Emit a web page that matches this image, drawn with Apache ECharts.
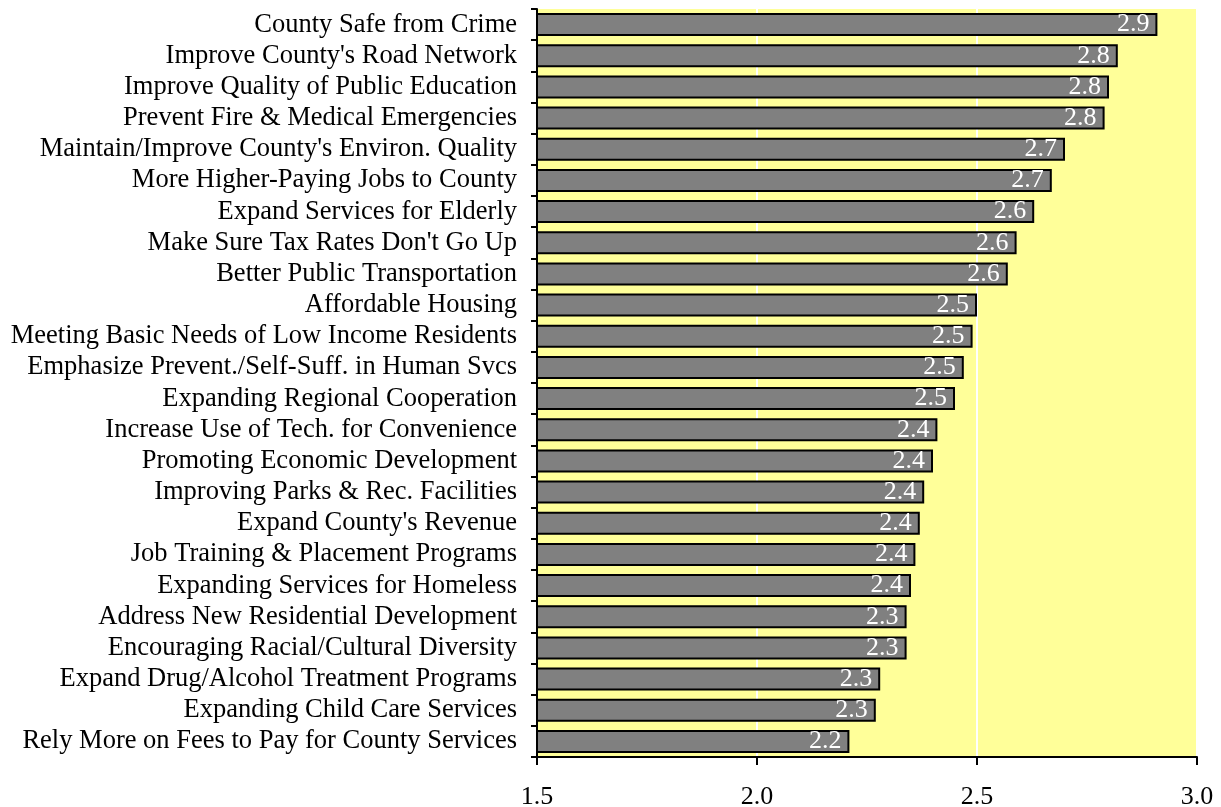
<!DOCTYPE html>
<html><head><meta charset="utf-8">
<script src="https://cdn.jsdelivr.net/npm/echarts@6/dist/echarts.min.js"></script>
<style>html,body{margin:0;padding:0;background:#fff;}#c{width:1221px;height:807px;}</style>
</head><body><div id="c"></div>
<script>
// top to bottom order as shown
const categories = [
  "County Safe from Crime",
  "Improve County's Road Network",
  "Improve Quality of Public Education",
  "Prevent Fire & Medical Emergencies",
  "Maintain/Improve County's Environ. Quality",
  "More Higher-Paying Jobs to County",
  "Expand Services for Elderly",
  "Make Sure Tax Rates Don't Go Up",
  "Better Public Transportation",
  "Affordable Housing",
  "Meeting Basic Needs of Low Income Residents",
  "Emphasize Prevent./Self-Suff. in Human Svcs",
  "Expanding Regional Cooperation",
  "Increase Use of Tech. for Convenience",
  "Promoting Economic Development",
  "Improving Parks & Rec. Facilities",
  "Expand County's Revenue",
  "Job Training & Placement Programs",
  "Expanding Services for Homeless",
  "Address New Residential Development",
  "Encouraging Racial/Cultural Diversity",
  "Expand Drug/Alcohol Treatment Programs",
  "Expanding Child Care Services",
  "Rely More on Fees to Pay for County Services"
];
const values = [2.91, 2.82, 2.80, 2.79, 2.70, 2.67, 2.63, 2.59, 2.57, 2.50, 2.49, 2.47, 2.45, 2.41, 2.40, 2.38, 2.37, 2.36, 2.35, 2.34, 2.34, 2.28, 2.27, 2.21];
const xTicks = [1.5, 2.0, 2.5, 3.0];

const font = "'Liberation Serif', 'Times New Roman', serif";
const chart = echarts.init(document.getElementById('c'));
chart.setOption({
  animation: false,
  grid: { left: 537, right: 24, top: 9, bottom: 50, show: true, backgroundColor: '#FFFF99', borderWidth: 0,
          containLabel: false, outerBoundsMode: 'none' },
  xAxis: {
    type: 'value', min: xTicks[0], max: xTicks[xTicks.length - 1], interval: 0.5,
    axisLine: { show: true, lineStyle: { color: '#000', width: 2 } },
    axisTick: { show: true, length: 8, lineStyle: { color: '#000', width: 2 } },
    axisLabel: { color: '#000', fontFamily: font, fontSize: 26, margin: 27, formatter: v => v.toFixed(1) },
    splitLine: { show: true, lineStyle: { color: '#fff', width: 2 } }
  },
  yAxis: {
    type: 'category', data: categories, inverse: true,
    axisLine: { show: true, lineStyle: { color: '#000', width: 2 } },
    axisTick: { show: true, length: 6, lineStyle: { color: '#000', width: 2 } },
    axisLabel: { color: '#000', fontFamily: font, fontSize: 26.5, margin: 20, interval: 0 },
    splitLine: { show: false }
  },
  series: [{
    type: 'bar', data: values, barCategoryGap: '26%',
    itemStyle: { color: '#808080', borderColor: '#000', borderWidth: 2 },
    label: { show: true, position: 'insideRight', distance: 8, color: '#fff', fontFamily: font, fontSize: 26,
      formatter: p => p.value.toFixed(1) }
  }]
});
</script>
</body></html>
